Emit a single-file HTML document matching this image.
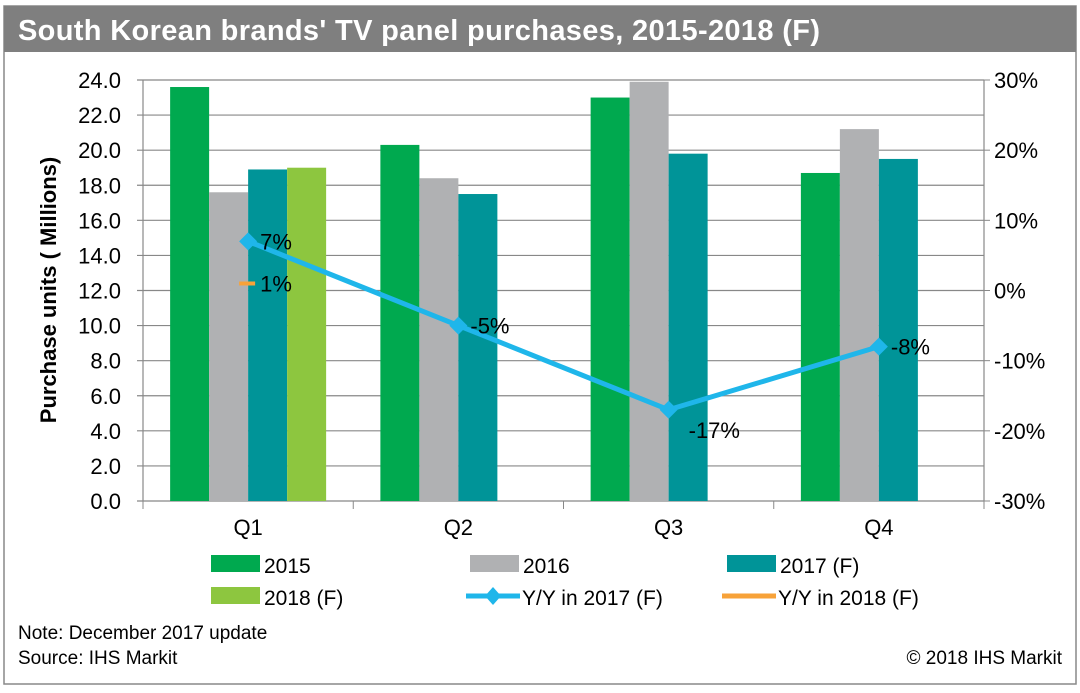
<!DOCTYPE html>
<html><head><meta charset="utf-8"><style>
body{margin:0;background:#fff;font-family:"Liberation Sans",sans-serif;}
svg text{font-family:"Liberation Sans",sans-serif;}
</style></head><body>
<svg id="c" width="1080" height="688" xmlns="http://www.w3.org/2000/svg">
<rect x="4" y="6" width="1072" height="678" fill="#fff" stroke="#888" stroke-width="1.5"/>
<rect x="4" y="6" width="1072" height="46" fill="#7f7f7f"/>
<text x="18" y="40" fill="#fff" font-size="29" font-weight="bold" textLength="802">South Korean brands' TV panel purchases, 2015-2018 (F)</text>
<g id="grid"></g><g id="bars"></g><g id="lines"></g><g id="axes"></g>
<text transform="translate(56,290) rotate(-90)" text-anchor="middle" font-size="22" font-weight="bold">Purchase units ( Millions)</text>
<g id="legend"></g>
<text x="18" y="639" font-size="19">Note: December 2017 update</text>
<text x="18" y="664" font-size="19">Source: IHS Markit</text>
<text x="1062" y="664" font-size="19" text-anchor="end">© 2018 IHS Markit</text>
</svg>
<script>
const categories=["Q1","Q2","Q3","Q4"];
const s2015=[23.6,20.3,23.0,18.7];
const s2016=[17.6,18.4,23.9,21.2];
const s2017=[18.9,17.5,19.8,19.5];
const s2018=[19.0,null,null,null];
const yoy2017=[7,-5,-17,-8];
const yoy2018=[1,null,null,null];
const leftTicks=["0.0","2.0","4.0","6.0","8.0","10.0","12.0","14.0","16.0","18.0","20.0","22.0","24.0"];
const rightTicks=["-30%","-20%","-10%","0%","10%","20%","30%"];
const NS="http://www.w3.org/2000/svg";
const X0=143,X1=984,Y0=501,Y1=80;
const cw=(X1-X0)/categories.length;
const yL=v=>Y0-(v/24)*(Y0-Y1);
const yR=v=>Y0-((v+30)/60)*(Y0-Y1);
const xC=i=>X0+cw*(i+0.5);
function mk(tag,attrs,parent){const e=document.createElementNS(NS,tag);for(const k in attrs)e.setAttribute(k,attrs[k]);document.getElementById(parent).appendChild(e);return e;}
leftTicks.forEach((t,i)=>{const v=i*2,y=yL(v);
 const g=mk("line",{x1:X0-6,x2:X1,y1:y,y2:y,stroke:"#888","stroke-width":1.2},"grid");
 
 
 const tx=mk("text",{x:X0-22,y:y+8,"text-anchor":"end","font-size":22},"axes");tx.textContent=t;
 
 
});
rightTicks.forEach((t,i)=>{const v=-30+i*10,y=yR(v);
 mk("line",{x1:X1,x2:X1+6,y1:y,y2:y,stroke:"#888"},"axes");
 const tx=mk("text",{x:X1+10,y:y+8,"font-size":22},"axes");tx.textContent=t;
 
 
});
mk("line",{x1:X0,x2:X0,y1:Y1,y2:Y0,stroke:"#888","stroke-width":1.2},"axes");
mk("line",{x1:X1,x2:X1,y1:Y1,y2:Y0,stroke:"#888","stroke-width":1.2},"axes");
for(let i=0;i<=categories.length;i++){mk("line",{x1:X0+cw*i,x2:X0+cw*i,y1:Y0,y2:Y0+8,stroke:"#888"},"axes");}
categories.forEach((c,i)=>{const tx=mk("text",{x:xC(i),y:Y0+34,"text-anchor":"middle","font-size":22},"axes");tx.textContent=c;
 
 });
const series=[[s2015,"#00a94f"],[s2016,"#b0b1b3"],[s2017,"#009498"],[s2018,"#8dc63f"]];
const bw=39;
series.forEach(([arr,col],si)=>{arr.forEach((v,i)=>{if(v==null)return;
 const x=xC(i)-2*bw+si*bw;
 const r=mk("rect",{x:x,y:yL(v),width:bw,height:Y0-yL(v),fill:col},"bars");
 
 
});});
const pts=yoy2017.map((v,i)=>xC(i)+","+yR(v)).join(" ");
const pl=mk("polyline",{points:pts,fill:"none",stroke:"#1fb6ea","stroke-width":5},"lines");


yoy2017.forEach((v,i)=>{const x=xC(i),y=yR(v);
 const m=mk("polygon",{points:`${x},${y-9} ${x+9},${y} ${x},${y+9} ${x-9},${y}`,fill:"#1fb6ea"},"lines");
 
 
 const t=mk("text",{x:x+(i==2?20:12),y:y+(i==2?28:8),"font-size":22},"lines");t.textContent=v+"%";
 
 
});
yoy2018.forEach((v,i)=>{if(v==null)return;const x=xC(i),y=yR(v);
 const m=mk("line",{x1:x-9,x2:x+7,y1:y,y2:y,stroke:"#f7a239","stroke-width":4},"lines");
 
 
 const t=mk("text",{x:x+12,y:y+8,"font-size":22},"lines");t.textContent=v+"%";
 
 
});
const leg=[["2015","#00a94f","box",211,565],["2016","#b0b1b3","box",470,565],["2017 (F)","#009498","box",727,565],
["2018 (F)","#8dc63f","box",211,597],["Y/Y in 2017 (F)","#1fb6ea","dia",466,597],["Y/Y in 2018 (F)","#f7a239","line",722,597]];
leg.forEach(([t,c,k,x,y])=>{
 if(k=="box")mk("rect",{x:x,y:y-10,width:49,height:17,fill:c},"legend");
 else{mk("line",{x1:x,x2:x+54,y1:y-1,y2:y-1,stroke:c,"stroke-width":5},"legend");
  if(k=="dia")mk("polygon",{points:`${x+27},${y-10} ${x+35},${y-1} ${x+27},${y+8} ${x+19},${y-1}`,fill:c},"legend");}
 const tx=mk("text",{x:x+(k=="box"?53:56),y:y+8,"font-size":21},"legend");tx.textContent=t;
 
 
});
</script>
</body></html>
